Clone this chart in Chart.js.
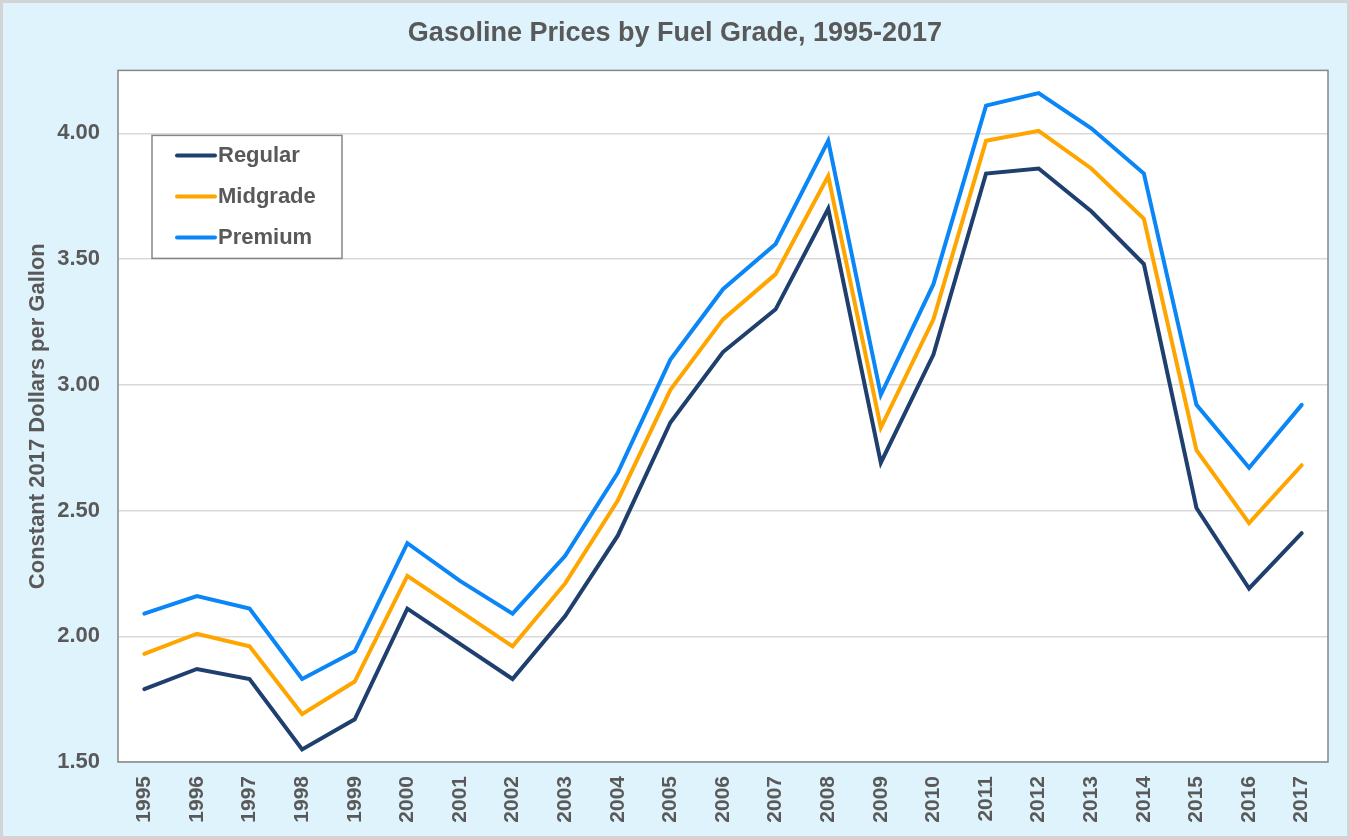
<!DOCTYPE html>
<html>
<head>
<meta charset="utf-8">
<script src="https://cdn.jsdelivr.net/npm/chart.js@4.4.1/dist/chart.umd.min.js"></script>
<style>
  html, body { margin: 0; padding: 0; background: #dff3fd; }
  #wrap { width: 1350px; height: 839px; position: relative; }
</style>
</head>
<body>
<div id="wrap"><canvas id="gasChart"></canvas></div>
<script>
// values (constant 2017 $/gal)
const years = ['1995', '1996', '1997', '1998', '1999', '2000', '2001', '2002', '2003', '2004', '2005', '2006',
  '2007', '2008', '2009', '2010', '2011', '2012', '2013', '2014', '2015', '2016', '2017'];
const regular = [1.79, 1.87, 1.83, 1.55, 1.67, 2.11, 1.97, 1.83, 2.08, 2.40, 2.85, 3.13,
  3.30, 3.70, 2.69, 3.12, 3.84, 3.86, 3.69, 3.48, 2.51, 2.19, 2.41];
const midgrade = [1.93, 2.01, 1.96, 1.69, 1.82, 2.24, 2.10, 1.96, 2.21, 2.54, 2.98, 3.26,
  3.44, 3.83, 2.83, 3.26, 3.97, 4.01, 3.86, 3.66, 2.74, 2.45, 2.68];
const premium = [2.09, 2.16, 2.11, 1.83, 1.94, 2.37, 2.22, 2.09, 2.32, 2.65, 3.10, 3.38,
  3.56, 3.97, 2.96, 3.40, 4.11, 4.16, 4.02, 3.84, 2.92, 2.67, 2.92];
const yTicks = [1.5, 2.0, 2.5, 3.0, 3.5, 4.0];

const textColor = '#595959';
const fontFamily = '"Liberation Sans", Arial, sans-serif';

// page background, white plot area and outer frame
const backdrop = {
  id: 'backdrop',
  beforeDraw(chart) {
    const { ctx, chartArea: a, width, height } = chart;
    ctx.save();
    ctx.fillStyle = '#dff3fd';
    ctx.fillRect(0, 0, width, height);
    ctx.strokeStyle = '#d4d4d4';
    ctx.lineWidth = 3;
    ctx.strokeRect(1.5, 1.5, width - 3, height - 3);
    ctx.fillStyle = '#ffffff';
    ctx.fillRect(a.left, a.top, a.right - a.left, a.bottom - a.top);
    ctx.restore();
  },
  afterDatasetsDraw(chart) {
    const { ctx, chartArea: a } = chart;
    ctx.save();
    ctx.strokeStyle = '#868686';
    ctx.lineWidth = 1.5;
    ctx.strokeRect(a.left, a.top, a.right - a.left, a.bottom - a.top);
    ctx.restore();
  }
};

// boxed legend sitting inside the plot, like the original
const boxLegend = {
  id: 'boxLegend',
  afterDraw(chart) {
    const { ctx, chartArea: a } = chart;
    const x = a.left + 34, y = a.top + 65, w = 190, h = 123;
    ctx.save();
    ctx.fillStyle = '#ffffff';
    ctx.fillRect(x, y, w, h);
    ctx.strokeStyle = '#868686';
    ctx.lineWidth = 1.5;
    ctx.strokeRect(x, y, w, h);
    ctx.font = 'bold 22px ' + fontFamily;
    ctx.textBaseline = 'middle';
    chart.data.datasets.forEach((ds, i) => {
      const ry = y + 20 + i * 41;
      ctx.strokeStyle = ds.borderColor;
      ctx.lineWidth = 4;
      ctx.lineCap = 'round';
      ctx.beginPath();
      ctx.moveTo(x + 25, ry);
      ctx.lineTo(x + 63, ry);
      ctx.stroke();
      ctx.fillStyle = textColor;
      ctx.fillText(ds.label, x + 66, ry + 1);
    });
    ctx.restore();
  }
};

new Chart(document.getElementById('gasChart'), {
  type: 'line',
  data: {
    labels: years,
    datasets: [
      { label: 'Regular', data: regular, borderColor: '#1f3f6e' },
      { label: 'Midgrade', data: midgrade, borderColor: '#ffa500' },
      { label: 'Premium', data: premium, borderColor: '#0b86f7' }
    ]
  },
  options: {
    responsive: true,
    maintainAspectRatio: false,
    animation: false,
    layout: { padding: { left: 22, right: 22, top: 0, bottom: 0 } },
    elements: {
      line: { borderWidth: 4, tension: 0, borderCapStyle: 'round', borderJoinStyle: 'miter' },
      point: { radius: 0 }
    },
    plugins: {
      legend: { display: false },
      tooltip: { enabled: false },
      title: {
        display: true,
        text: 'Gasoline Prices by Fuel Grade, 1995-2017',
        color: textColor,
        font: { family: fontFamily, size: 27, weight: 'bold' },
        padding: { top: 17, bottom: 21 }
      }
    },
    scales: {
      x: {
        offset: true,
        grid: { display: false, drawTicks: false },
        border: { display: false },
        ticks: {
          color: textColor,
          font: { family: fontFamily, size: 21, weight: 'bold' },
          minRotation: 90,
          maxRotation: 90,
          padding: 14,
          autoSkip: false
        },
        afterFit(axis) { axis.height = 77; }
      },
      y: {
        min: 1.5,
        max: 4.25,
        grid: { color: '#d9d9d9', lineWidth: 1.5, drawTicks: false },
        border: { display: false },
        afterBuildTicks(axis) { axis.ticks = yTicks.map(v => ({ value: v })); },
        ticks: {
          color: textColor,
          font: { family: fontFamily, size: 22, weight: 'bold' },
          padding: 18,
          callback: v => Number(v).toFixed(2)
        },
        title: {
          display: true,
          text: 'Constant 2017 Dollars per Gallon',
          color: textColor,
          font: { family: fontFamily, size: 22, weight: 'bold' },
          padding: { top: 3, bottom: 0 }
        },
        afterFit(axis) { axis.width = 96; }
      }
    }
  },
  plugins: [backdrop, boxLegend]
});
</script>
</body>
</html>
